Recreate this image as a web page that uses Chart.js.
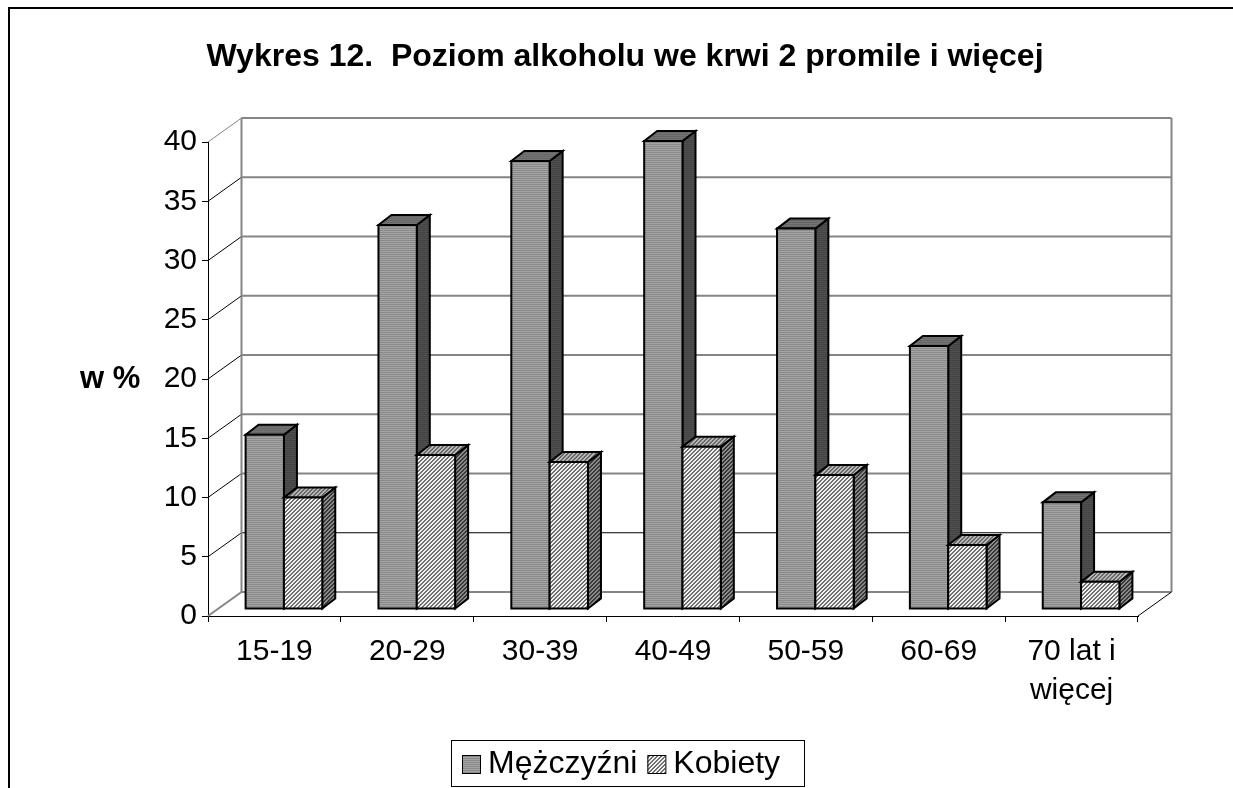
<!DOCTYPE html>
<html>
<head>
<meta charset="utf-8">
<script src="https://cdn.jsdelivr.net/npm/chart.js@4.4.1/dist/chart.umd.min.js"></script>
<style>
  html, body { margin: 0; padding: 0; background: #fff; }
  #wrap { position: relative; width: 1233px; height: 788px; }
</style>
</head>
<body>
<div id="wrap"><canvas id="c" width="1233" height="788"></canvas></div>
<script>
// ---- data ----
const categories = ['15-19', '20-29', '30-39', '40-49', '50-59', '60-69', ['70 lat i', 'więcej']];
const menValues = [14.7, 32.4, 37.8, 39.5, 32.1, 22.2, 9.0];
const womenValues = [9.4, 13.0, 12.4, 13.7, 11.3, 5.4, 2.3];
const seriesLabels = ['Mężczyźni', 'Kobiety'];
const yTicks = [0, 5, 10, 15, 20, 25, 30, 35, 40];
const titleText = 'Wykres 12.  Poziom alkoholu we krwi 2 promile i więcej';
const yAxisLabel = 'w %';

const FONT = '"Liberation Sans", Arial, sans-serif';

// ---- patterns ----
function makePattern(w, h, fn) {
  const c = document.createElement('canvas');
  c.width = w; c.height = h;
  const x = c.getContext('2d');
  for (let i = 0; i < w; i++) for (let j = 0; j < h; j++) {
    x.fillStyle = fn(i, j); x.fillRect(i, j, 1, 1);
  }
  return x.createPattern(c, 'repeat');
}
const P = {
  menFront: makePattern(1, 2, (i, j) => j % 2 ? '#a4a4a4' : '#8a8a8a'),
  menSide: makePattern(1, 2, (i, j) => j % 2 ? '#505050' : '#434343'),
  menTop: makePattern(1, 2, (i, j) => j % 2 ? '#747474' : '#666666'),
  womenFront: makePattern(4, 4, (i, j) => ((i + j) % 4 < 2) ? '#707070' : '#f2f2f2'),
  womenSide: makePattern(4, 4, (i, j) => ((i + j) % 4 < 2) ? '#383838' : '#8a8a8a'),
  womenTop: makePattern(4, 4, (i, j) => ((i + j) % 4 < 2) ? '#686868' : '#b8b8b8')
};
const faces = [
  { front: P.menFront, side: P.menSide, top: P.menTop },
  { front: P.womenFront, side: P.womenSide, top: P.womenTop }
];

// depth geometry (pixels)
const WALL_DX = 33.5, WALL_DY = -24;   // full depth of the floor / walls
const BAR_DX = 9.5, BAR_DY = -7;       // bar front plane offset
const DEPTH_DX = 13, DEPTH_DY = -10;   // bar depth

const scene3d = {
  id: 'scene3d',
  beforeDraw(chart) {
    const c = chart.ctx;
    c.save();
    c.fillStyle = '#fff';
    c.fillRect(0, 0, chart.width, chart.height);
    c.strokeStyle = '#000'; c.lineWidth = 2;
    c.beginPath();
    c.moveTo(9, 788); c.lineTo(9, 8); c.lineTo(1233, 8);
    c.stroke();
    c.restore();
  },
  beforeDatasetsDraw(chart) {
    const c = chart.ctx;
    const xs = chart.scales.x, ys = chart.scales.y;
    const L = xs.left, R = xs.right;
    const y0 = ys.getPixelForValue(0), yTop = ys.getPixelForValue(yTicks[yTicks.length - 1]);
    c.save();
    yTicks.forEach(v => {
      const y = ys.getPixelForValue(v);
      c.beginPath();
      c.lineWidth = (v === 5) ? 1 : 2;
      c.strokeStyle = (v === 5) ? '#000' : '#858585';
      c.moveTo(L + WALL_DX, y + WALL_DY); c.lineTo(R + WALL_DX, y + WALL_DY);
      c.stroke();
      if (v !== 0) {
        c.beginPath();
        c.lineWidth = 1;
        c.strokeStyle = (v === 40) ? '#858585' : '#000';
        c.moveTo(L, y); c.lineTo(L + WALL_DX, y + WALL_DY);
        c.stroke();
      }
    });
    c.strokeStyle = '#858585'; c.lineWidth = 2;
    c.beginPath();
    c.moveTo(L + WALL_DX, y0 + WALL_DY); c.lineTo(L + WALL_DX, yTop + WALL_DY);
    c.moveTo(R + WALL_DX, y0 + WALL_DY); c.lineTo(R + WALL_DX, yTop + WALL_DY);
    c.stroke();
    c.beginPath(); c.lineWidth = 2; c.strokeStyle = '#858585';
    c.moveTo(L, y0); c.lineTo(L + WALL_DX, y0 + WALL_DY); c.stroke();
    c.beginPath(); c.lineWidth = 1; c.strokeStyle = '#000';
    c.moveTo(R, y0); c.lineTo(R + WALL_DX, y0 + WALL_DY); c.stroke();

    const metas = [chart.getDatasetMeta(0), chart.getDatasetMeta(1)];
    c.lineWidth = 2; c.strokeStyle = '#000'; c.lineJoin = 'miter';
    for (let i = 0; i < categories.length; i++) {
      metas.forEach((meta, di) => {
        const el = meta.data[i];
        const p = el.getProps(['x', 'y', 'base', 'width'], true);
        const l = p.x - p.width / 2 + BAR_DX, r = p.x + p.width / 2 + BAR_DX;
        const t = p.y + BAR_DY, b = p.base + BAR_DY;
        const f = faces[di];
        c.beginPath();
        c.moveTo(r, t); c.lineTo(r + DEPTH_DX, t + DEPTH_DY);
        c.lineTo(r + DEPTH_DX, b + DEPTH_DY); c.lineTo(r, b); c.closePath();
        c.fillStyle = f.side; c.fill(); c.stroke();
        c.beginPath();
        c.moveTo(l, t); c.lineTo(l + DEPTH_DX, t + DEPTH_DY);
        c.lineTo(r + DEPTH_DX, t + DEPTH_DY); c.lineTo(r, t); c.closePath();
        c.fillStyle = f.top; c.fill(); c.stroke();
        c.beginPath();
        c.rect(l, t, r - l, b - t);
        c.fillStyle = f.front; c.fill(); c.stroke();
      });
    }
    c.restore();
    return false;
  },
  afterDraw(chart) {
    const c = chart.ctx;
    c.save();
    c.fillStyle = '#000';
    c.font = 'bold 31px ' + FONT;
    c.textAlign = 'left'; c.textBaseline = 'middle';
    c.fillText(yAxisLabel, 80, chart.scales.y.getPixelForValue(20));
    // legend
    const bx = 451, by = 740, bw = 353, bh = 46;
    c.lineWidth = 1; c.strokeStyle = '#000';
    c.strokeRect(bx + 0.5, by + 0.5, bw, bh);
    c.font = '32px ' + FONT;
    let x = bx + 11;
    const cy = by + bh / 2 + 1;
    chart.data.datasets.forEach((ds, di) => {
      const s = 18;
      c.fillStyle = faces[di].front;
      c.fillRect(x, cy - s / 2, s, s);
      c.strokeRect(x + 0.5, cy - s / 2 + 0.5, s, s);
      x += s + 8;
      c.fillStyle = '#000';
      c.fillText(ds.label, x, cy);
      x += c.measureText(ds.label).width + 10;
    });
    c.restore();
  }
};

new Chart(document.getElementById('c'), {
  type: 'bar',
  data: {
    labels: categories,
    datasets: [
      { label: seriesLabels[0], data: menValues, backgroundColor: P.menFront, borderColor: '#000', borderWidth: 2 },
      { label: seriesLabels[1], data: womenValues, backgroundColor: P.womenFront, borderColor: '#000', borderWidth: 2 }
    ]
  },
  plugins: [scene3d],
  options: {
    responsive: false,
    animation: false,
    events: [],
    categoryPercentage: 0.577,
    barPercentage: 1.0,
    layout: { padding: { left: 112, right: 95, top: 0, bottom: 72 } },
    plugins: {
      legend: { display: false },
      tooltip: { enabled: false },
      title: {
        display: true,
        text: titleText,
        color: '#000',
        font: { family: FONT, size: 32, weight: 'bold', lineHeight: 1.2 },
        padding: { top: 37.8, bottom: 65.8 }
      }
    },
    scales: {
      x: {
        afterFit(s) { s.height = 100; },
        grid: { drawOnChartArea: false, drawTicks: true, tickLength: 6, color: '#000', offset: true },
        border: { display: true, color: '#000', width: 1 },
        ticks: { color: '#000', font: { family: FONT, size: 30, lineHeight: 1.3 }, padding: 10, maxRotation: 0, autoSkip: false }
      },
      y: {
        min: 0, max: 40,
        afterFit(s) { s.width = 96; },
        afterBuildTicks(s) { s.ticks = yTicks.map(v => ({ value: v })); },
        grid: { drawOnChartArea: false, drawTicks: true, tickLength: 6, color: '#000' },
        border: { display: true, color: '#000', width: 1 },
        ticks: { color: '#000', font: { family: FONT, size: 30 }, padding: 5 }
      }
    }
  }
});
</script>
</body>
</html>
